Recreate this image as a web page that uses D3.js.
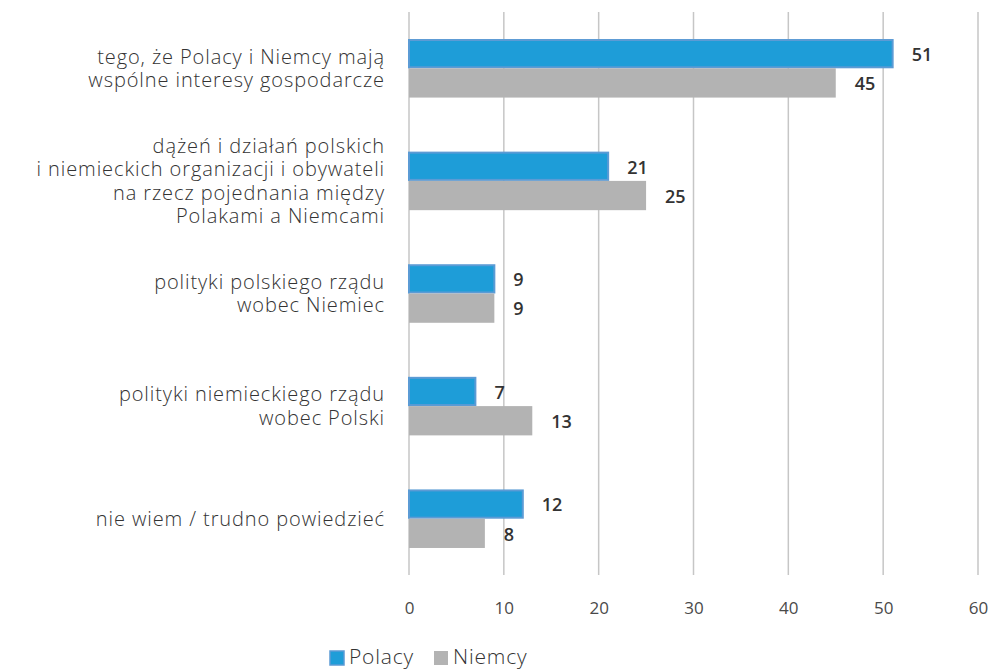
<!DOCTYPE html>
<html>
<head>
<meta charset="utf-8">
<script src="https://cdn.jsdelivr.net/npm/d3@7"></script>
<style>
    body { margin: 0; background: #fff; }
    svg { font-family: "Open Sans", Lato, sans-serif; }
</style>
</head>
<body>
<div class="chart-ctn"></div>
<script>
const categories = [
    ['tego, że Polacy i Niemcy mają', 'wspólne interesy gospodarcze'],
    ['dążeń i działań polskich', 'i niemieckich organizacji i obywateli', 'na rzecz pojednania między', 'Polakami a Niemcami'],
    ['polityki polskiego rządu', 'wobec Niemiec'],
    ['polityki niemieckiego rządu', 'wobec Polski'],
    ['nie wiem / trudno powiedzieć']
];
const polacy = [51, 21, 9, 7, 12];
const niemcy = [45, 25, 9, 13, 8];
const seriesNames = ['Polacy', 'Niemcy'];
const xTicks = [0, 10, 20, 30, 40, 50, 60];

const w = 991, h = 669;
const padding = { left: 409, right: 13, top: 12, bottom: 94 };
const colors = ['#1e9dd8', '#b3b3b3'];
const strokes = ['#5b9bd5', 'none'];

let svg = d3.select('.chart-ctn')
    .append('svg')
    .attr('width', w)
    .attr('height', h);

let x = d3.scaleLinear()
    .domain([0, 60])
    .range([padding.left, w - padding.right]);

let y = d3.scaleBand()
    .domain(d3.range(categories.length))
    .range([padding.top, h - padding.bottom])
    .paddingInner(0.48)
    .paddingOuter(0.24);

let sub = d3.scaleBand()
    .domain([0, 1])
    .range([0, y.bandwidth()]);

// gridlines
svg.append('g')
    .selectAll('line')
    .data(xTicks)
    .join('line')
    .attr('x1', d => x(d))
    .attr('x2', d => x(d))
    .attr('y1', padding.top)
    .attr('y2', h - padding.bottom)
    .attr('stroke', '#c6c6c6')
    .attr('stroke-width', 1.5);

const xAxis = d3.axisBottom(x)
    .tickValues(xTicks)
    .tickSize(0)
    .tickPadding(0);

svg.append('g')
    .attr('transform', 'translate(0,' + (h - padding.bottom + 27) + ')')
    .call(xAxis)
    .call(g => g.select('.domain').remove())
    .selectAll('text')
    .attr('font-size', 17)
    .attr('font-family', '"Open Sans", Lato, sans-serif')
    .attr('fill', '#4a4a4a');

const rows = [polacy, niemcy];
rows.forEach((vals, s) => {
    svg.append('g')
        .selectAll('rect')
        .data(vals)
        .join('rect')
        .attr('x', x(0))
        .attr('y', (d, i) => y(i) + sub(s) + (s === 0 ? 1 : 0))
        .attr('width', d => x(d) - x(0))
        .attr('height', s === 0 ? sub.bandwidth() - 2 : sub.bandwidth())
        .attr('fill', colors[s])
        .attr('stroke', strokes[s])
        .attr('stroke-width', 2);

    svg.append('g')
        .selectAll('text')
        .data(vals)
        .join('text')
        .attr('x', d => x(d) + 19)
        .attr('y', (d, i) => y(i) + sub(s) + sub.bandwidth() / 2 + 1)
        .attr('dy', '0.35em')
        .attr('font-size', 18)
        .attr('font-weight', 600)
        .attr('fill', '#333')
        .text(d => d);
});

// category labels
const lineH = 23.6;
categories.forEach((lines, i) => {
    const cy = y(i) + y.bandwidth() / 2;
    const t = svg.append('text')
        .attr('text-anchor', 'end')
        .attr('font-size', 20)
        .attr('font-weight', 300)
        .attr('letter-spacing', 0.9)
        .attr('fill', '#333');
    lines.forEach((line, k) => {
        t.append('tspan')
            .attr('x', 385)
            .attr('y', cy + (k - (lines.length - 1) / 2) * lineH)
            .attr('dy', '0.35em')
            .text(line);
    });
});

// legend
const legend = svg.append('g').attr('transform', 'translate(330, 658)');
const legendX = [0, 104];
seriesNames.forEach((name, s) => {
    legend.append('rect')
        .attr('x', legendX[s])
        .attr('y', -7)
        .attr('width', 14)
        .attr('height', 14)
        .attr('fill', colors[s])
        .attr('stroke', strokes[s])
        .attr('stroke-width', 1.5);
    legend.append('text')
        .attr('x', legendX[s] + 19)
        .attr('y', 6)
        .attr('font-size', 21)
        .attr('font-weight', 300)
        .attr('letter-spacing', 0.8)
        .attr('fill', '#333')
        .text(name);
});
</script>
</body>
</html>
